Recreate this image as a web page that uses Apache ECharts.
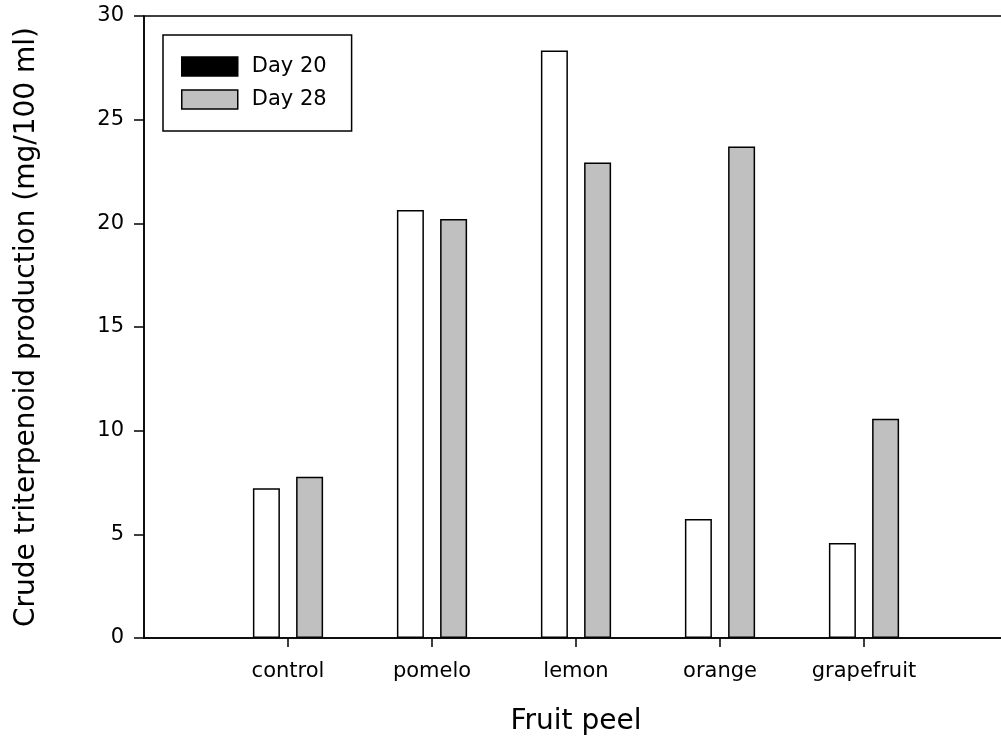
<!DOCTYPE html>
<html>
<head>
<meta charset="utf-8">
<script src="https://cdn.jsdelivr.net/npm/echarts@6/dist/echarts.min.js"></script>
<style>
html,body{margin:0;padding:0;background:#fff;}
#c{width:1001px;height:742px;}
</style>
</head>
<body>
<div id="c"></div>
<script>
const categories = ['control', 'pomelo', 'lemon', 'orange', 'grapefruit'];
const day20 = [7.22, 20.64, 28.33, 5.74, 4.58];
const day28 = [7.78, 20.21, 22.93, 23.70, 10.58];
const yTicks = [0, 5, 10, 15, 20, 25, 30];

const pad = arr => [null].concat(arr, [null]);
const axisCats = [''].concat(categories, ['']);
const FONT = '"DejaVu Sans", Verdana, sans-serif';

const chart = echarts.init(document.getElementById('c'));
chart.setOption({
  animation: false,
  backgroundColor: '#fff',
  grid: {
    left: 144, top: 16, width: 864, height: 622,
    outerBoundsMode: 'none', containLabel: false,
    show: true, borderColor: '#000', borderWidth: 1.5, backgroundColor: 'transparent'
  },
  legend: {
    orient: 'vertical',
    left: 163, top: 35,
    padding: [21, 25, 21, 18],
    borderColor: '#000', borderWidth: 1.5,
    icon: 'rect',
    itemWidth: 56, itemHeight: 19, itemGap: 12,
    textStyle: { fontFamily: FONT, fontSize: 21, color: '#000', padding: [0, 0, 0, 9] },
    data: [
      { name: 'Day 20', itemStyle: { color: '#000', borderColor: '#000', borderWidth: 1.5 } },
      { name: 'Day 28', itemStyle: { color: '#c0c0c0', borderColor: '#000', borderWidth: 1.5 } }
    ]
  },
  xAxis: {
    type: 'category',
    data: axisCats,
    boundaryGap: false,
    name: 'Fruit peel',
    nameLocation: 'middle',
    nameGap: 70,
    nameTextStyle: { fontFamily: FONT, fontSize: 28, color: '#000' },
    axisLine: { lineStyle: { color: '#000', width: 1.5 } },
    axisTick: { show: true, length: 9, lineStyle: { color: '#000', width: 1.5 },
      interval: (i) => i >= 1 && i <= categories.length },
    axisLabel: { fontFamily: FONT, fontSize: 21, color: '#000', margin: 23,
      interval: 0 },
    splitLine: { show: false }
  },
  yAxis: {
    type: 'value',
    min: yTicks[0], max: yTicks[yTicks.length - 1], interval: 5,
    name: 'Crude triterpenoid production (mg/100 ml)',
    nameLocation: 'middle',
    nameGap: 103,
    nameTextStyle: { fontFamily: FONT, fontSize: 28, color: '#000' },
    axisLine: { show: true, lineStyle: { color: '#000', width: 1.5 } },
    axisTick: { show: true, length: 10, lineStyle: { color: '#000', width: 1.5 } },
    axisLabel: { fontFamily: FONT, fontSize: 21, color: '#000', margin: 20 },
    splitLine: { show: false }
  },
  series: [
    {
      name: 'Day 20', type: 'bar', data: pad(day20),
      barWidth: 27, barGap: '60%',
      itemStyle: { color: '#fff', borderColor: '#000', borderWidth: 1.5 }
    },
    {
      name: 'Day 28', type: 'bar', data: pad(day28),
      barWidth: 27, barGap: '60%',
      itemStyle: { color: '#c0c0c0', borderColor: '#000', borderWidth: 1.5 }
    }
  ]
});
</script>
</body>
</html>
